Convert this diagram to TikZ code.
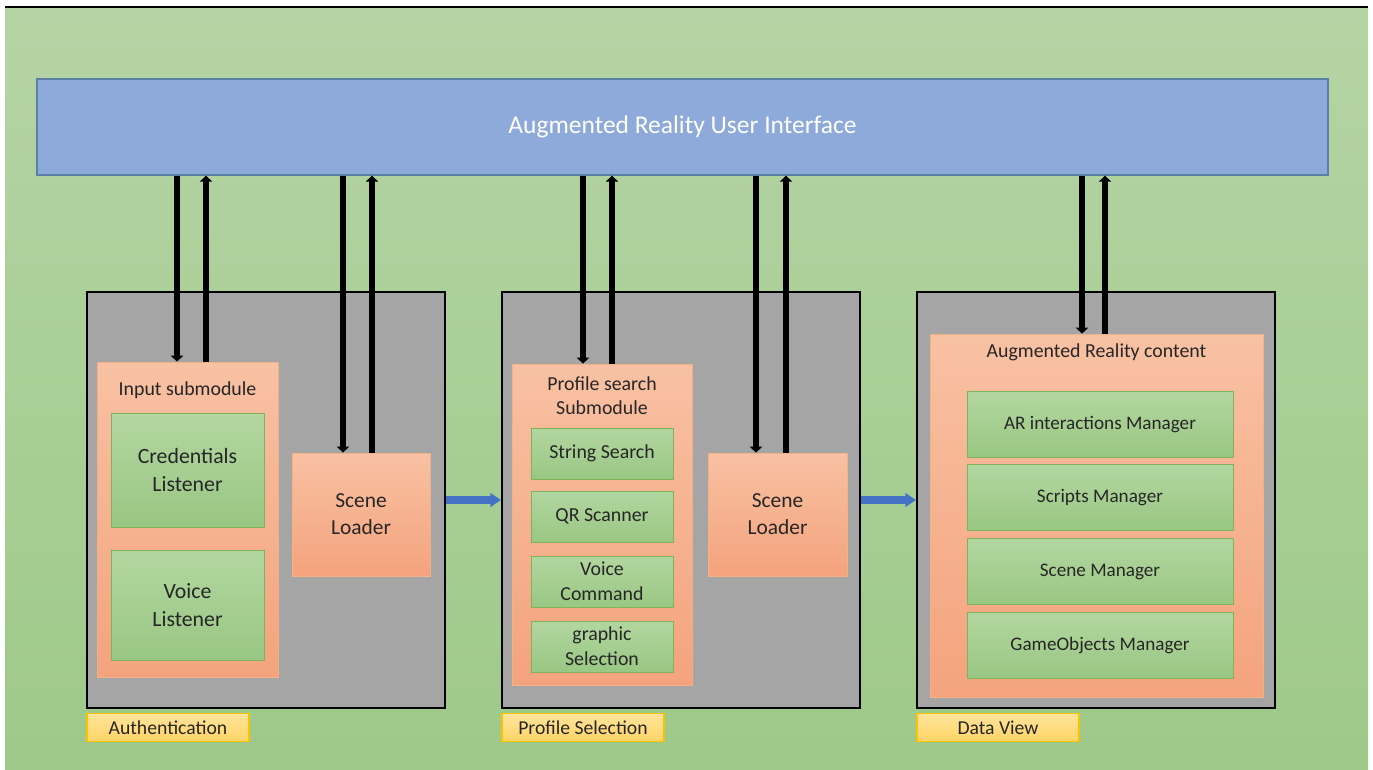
\documentclass[tikz,border=0pt]{standalone}
\usepackage{fontspec}
\setmainfont{Carlito}
\usetikzlibrary{arrows.meta}

\definecolor{bgTop}{HTML}{B5D4A5}
\definecolor{bgBot}{HTML}{9EC989}
\definecolor{uiFill}{HTML}{8EAADB}
\definecolor{uiLine}{HTML}{5B7FA6}
\definecolor{panFill}{HTML}{A5A5A5}
\definecolor{orTop}{HTML}{F8C1A3}
\definecolor{orBot}{HTML}{F4A37D}
\definecolor{orLine}{HTML}{F4B183}
\definecolor{grTop}{HTML}{B3D6A0}
\definecolor{grBot}{HTML}{99C783}
\definecolor{grLine}{HTML}{7FB35A}
\definecolor{ylTop}{HTML}{FFE49C}
\definecolor{ylBot}{HTML}{FFD466}
\definecolor{ylLine}{HTML}{FFC000}
\definecolor{flowBlue}{HTML}{4472C4}
\definecolor{txt}{HTML}{262626}

\tikzset{
  panel/.style={draw=black, line width=1.2pt, fill=panFill,
    minimum width=7.16cm, minimum height=8.32cm},
  modbox/.style={draw=orLine, line width=0.5pt, top color=orTop, bottom color=orBot},
  subbox/.style={draw=grLine, line width=0.5pt, top color=grTop, bottom color=grBot,
    text=txt, align=center, inner sep=0pt},
  tag/.style={draw=ylLine, line width=0.6pt, top color=ylTop, bottom color=ylBot,
    text=txt, minimum width=3.24cm, minimum height=0.56cm, inner sep=0pt,
    font=\fontsize{11.2}{13}\selectfont},
  dnarrow/.style={line width=3.7pt, -{Triangle[length=3.4pt, width=7pt]}},
  flow/.style={draw=flowBlue, line width=4.4pt, -{Triangle[length=6pt, width=7.6pt]}},
  lbl/.style={text=txt, align=center, font=\fontsize{11.3}{13.6}\selectfont},
}

\begin{document}
\begin{tikzpicture}[x=0.02cm, y=-0.02cm]
  \useasboundingbox (0,0) rectangle (1373,769);
  % background
  \shade[top color=bgTop, bottom color=bgBot] (5,8) rectangle (1368,769);
  \draw[line width=1pt] (5,7) -- (1368,7);

  % user interface bar
  \node[draw=uiLine, line width=0.8pt, fill=uiFill, text=white,
    minimum width=25.82cm, minimum height=1.92cm,
    font=\fontsize{14.5}{17}\selectfont] (ui) at (682.5,127)
    {Augmented Reality User Interface};

  % modules
  \node[panel] (panA) at (266,500) {};
  \node[panel] (panB) at (681,500) {};
  \node[panel] (panC) at (1096,500) {};
  \node[tag] (tagA) at (168,727.5) {Authentication};
  \node[tag] (tagB) at (583,727.5) {Profile Selection};
  \node[tag] (tagC) at (998,727.5) {Data View};

  % authentication
  \node[modbox, minimum width=3.62cm, minimum height=6.3cm] (inBox) at (187.5,519.5) {};
  \node[lbl] (inTitle) at (187.5,390) {Input submodule};
  \node[subbox, minimum width=3.06cm, minimum height=2.28cm,
    font=\fontsize{12.4}{15.9}\selectfont] (cred) at (187.5,470) {Credentials\\Listener};
  \node[subbox, minimum width=3.06cm, minimum height=2.2cm,
    font=\fontsize{12.4}{15.9}\selectfont] (voiceL) at (187.5,605) {Voice\\Listener};
  \node[modbox, minimum width=2.76cm, minimum height=2.46cm, text=txt, align=center,
    font=\fontsize{12.2}{15.4}\selectfont] (sceneA) at (361,514.5) {Scene\\Loader};

  % profile selection
  \node[modbox, minimum width=3.6cm, minimum height=6.42cm] (profBox) at (602,524.5) {};
  \node[lbl] (profTitle) at (602,396) {Profile search\\Submodule};
  \node[subbox, minimum width=2.84cm, minimum height=1.02cm, font=\fontsize{11.3}{13.6}\selectfont]
    (strS) at (602,453.5) {String Search};
  \node[subbox, minimum width=2.84cm, minimum height=1.02cm, font=\fontsize{11.3}{13.6}\selectfont]
    (qrS) at (602,516.5) {QR Scanner};
  \node[subbox, minimum width=2.84cm, minimum height=1.02cm, font=\fontsize{11.3}{14.2}\selectfont]
    (voiceC) at (602,581.5) {Voice\\Command};
  \node[subbox, minimum width=2.84cm, minimum height=1.02cm, font=\fontsize{11.3}{14.2}\selectfont]
    (graphS) at (602,646.5) {graphic\\Selection};
  \node[modbox, minimum width=2.78cm, minimum height=2.46cm, text=txt, align=center,
    font=\fontsize{12.2}{15.4}\selectfont] (sceneB) at (777.5,514.5) {Scene\\Loader};

  % data view
  \node[modbox, minimum width=6.66cm, minimum height=7.26cm] (arBox) at (1096.5,515.5) {};
  \node[lbl] (arTitle) at (1096.5,352) {Augmented Reality content};
  \node[subbox, minimum width=5.32cm, minimum height=1.32cm, font=\fontsize{10.9}{13}\selectfont]
    (arInt) at (1100,424.5) {AR interactions Manager};
  \node[subbox, minimum width=5.32cm, minimum height=1.32cm, font=\fontsize{10.9}{13}\selectfont]
    (scrM) at (1100,497.5) {Scripts Manager};
  \node[subbox, minimum width=5.32cm, minimum height=1.32cm, font=\fontsize{10.9}{13}\selectfont]
    (scnM) at (1100,571.5) {Scene Manager};
  \node[subbox, minimum width=5.32cm, minimum height=1.32cm, font=\fontsize{10.9}{13}\selectfont]
    (goM) at (1100,645) {GameObjects Manager};

  % links to the interface
  \foreach \xa/\xb/\tgt in {177/206/inBox, 343/372/sceneA, 583/612/profBox,
                            756/786/sceneB, 1082/1105/arBox} {
    \coordinate (dn) at (\xa,0);
    \coordinate (up) at (\xb,0);
    \draw[dnarrow] (ui.south -| dn) -- (\tgt.north -| dn);
    \draw[dnarrow] (\tgt.north -| up) -- (ui.south -| up);
  }

  % flow between modules
  \draw[flow] (panA.east) -- (panB.west);
  \draw[flow] (panB.east) -- (panC.west);
\end{tikzpicture}
\end{document}
